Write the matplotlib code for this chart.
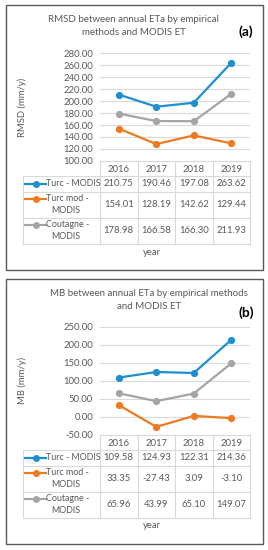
import matplotlib.pyplot as plt
import matplotlib.patches as patches

plt.rcParams['font.family'] = ['Lato', 'DejaVu Sans']

years = ["2016", "2017", "2018", "2019"]
series = ["Turc - MODIS", "Turc mod -\nMODIS", "Coutagne -\nMODIS"]
colors = ["#1F8FD0", "#F07A22", "#A5A5A5"]

rmsd_turc = [210.75, 190.46, 197.08, 263.62]
rmsd_turcmod = [154.01, 128.19, 142.62, 129.44]
rmsd_coutagne = [178.98, 166.58, 166.30, 211.93]

mb_turc = [109.58, 124.93, 122.31, 214.36]
mb_turcmod = [33.35, -27.43, 3.09, -3.10]
mb_coutagne = [65.96, 43.99, 65.10, 149.07]

W, H = 268, 550
textColor = "#595959"
gridColor = "#D9D9D9"
fs = 6.8
fig = plt.figure(figsize=(W / 100, H / 100), dpi=100)


def pxAxes(x0, y0, x1, y1):
    # axes placed by pixel box (top-left origin)
    return fig.add_axes([x0 / W, 1 - y1 / H, (x1 - x0) / W, (y1 - y0) / H])


def fx(x):
    return x / W


def fy(y):
    return 1 - y / H


def panel(top, bottom, plotTop, plotBottom, values, ylim, ystep, title, titleY, titleX, tag, tagY, ylabel, ylabelY):
    # panel border
    fig.patches.append(patches.Rectangle((fx(6), fy(bottom)), fx(263) - fx(6), fy(top) - fy(bottom),
                                         transform=fig.transFigure, fill=False, edgecolor="#595959", lw=1.0))
    ax = pxAxes(100, plotTop, 250, plotBottom)
    xs = list(range(len(years)))
    ax.set_xlim(-0.5, 3.5)
    ax.set_ylim(ylim)
    ticks = []
    t = ylim[0]
    while t <= ylim[1] + 1e-9:
        ticks.append(t)
        t += ystep
    ax.set_yticks(ticks)
    ax.set_yticklabels(["%.2f" % v for v in ticks], fontsize=fs, color=textColor)
    ax.set_xticks([])
    for s in ax.spines.values():
        s.set_visible(False)
    ax.tick_params(axis='y', length=0, pad=5)
    for v in ticks[1:]:
        ax.axhline(v, color=gridColor, lw=0.8, zorder=0)
    for vals, c in zip(values, colors):
        ax.plot(xs, vals, "-o", color=c, lw=1.6, markersize=4.2, zorder=3, clip_on=False)

    # data table
    tab = pxAxes(23, plotBottom, 250, plotBottom + 82.5)
    catW = 37.5
    tab.set_xlim(-0.5 - 77 / catW, 3.5)
    tab.set_ylim(82.5, 0)
    tab.axis("off")
    rows = [0, 15, 30.5, 56.5, 82.5]
    left = -0.5 - 77 / catW
    for i, r in enumerate(rows):
        tab.plot([left if i > 0 else -0.5, 3.5], [r, r], color=gridColor, lw=0.8, clip_on=False)
    for b in [-0.5, 0.5, 1.5, 2.5, 3.5]:
        tab.plot([b, b], [0, 82.5], color=gridColor, lw=0.8, clip_on=False)
    tab.plot([left, left], [15, 82.5], color=gridColor, lw=0.8, clip_on=False)
    for j, y in enumerate(years):
        tab.text(j, 8, y, ha="center", va="center", fontsize=fs, color=textColor)
    keyX0 = left + 2 / catW
    keyX1 = left + 23 / catW
    for i, (name, vals, c) in enumerate(zip(series, values, colors)):
        r0, r1 = rows[i + 1], rows[i + 2]
        mid = (r0 + r1) / 2
        lines = name.split("\n")
        if len(lines) == 1:
            keyY = mid
            tab.text(keyX1 + 0.5 / catW, mid, lines[0], ha="left", va="center", fontsize=fs - 0.4, color=textColor)
        else:
            keyY = mid - 6
            tab.text(keyX1 + 0.5 / catW, mid - 6, lines[0], ha="left", va="center", fontsize=fs - 0.4, color=textColor)
            tab.text(left + 43 / catW, mid + 6, lines[1], ha="center", va="center", fontsize=fs - 0.4, color=textColor)
        tab.plot([keyX0, keyX1], [keyY, keyY], color=c, lw=1.6, clip_on=False)
        tab.plot([(keyX0 + keyX1) / 2], [keyY], "o", color=c, markersize=4.0, clip_on=False)
        for j, v in enumerate(vals):
            tab.text(j, mid, "%.2f" % v, ha="center", va="center", fontsize=fs, color=textColor)

    fig.text(fx(152), fy(plotBottom + 91), "year", ha="center", va="center", fontsize=fs, color=textColor)
    fig.text(fx(22), fy(ylabelY), ylabel, ha="center", va="center", rotation=90, fontsize=fs, color=textColor)
    # title as two separate lines
    for k, line in enumerate(title.split("\n")):
        fig.text(fx(titleX), fy(titleY - 6.5 + 13.5 * k), line, ha="center", va="center", fontsize=7.0,
                 color=textColor)
    fig.text(fx(246), fy(tagY), tag, ha="center", va="center", fontsize=10, fontweight="bold", color="black")


panel(5, 270, 53, 161, [rmsd_turc, rmsd_turcmod, rmsd_coutagne], (100, 280), 20,
      "RMSD between annual ETa by empirical\nmethods and MODIS ET", 25.5, 133.5, "(a)", 32,
      "RMSD (mm/y)", 107)
panel(279, 544, 327, 435, [mb_turc, mb_turcmod, mb_coutagne], (-50, 250), 50,
      "MB between annual ETa by empirical methods\nand MODIS ET", 299.5, 149, "(b)", 312.5,
      "MB (mm/y)", 380)

fig.savefig("out.png", dpi=100)
